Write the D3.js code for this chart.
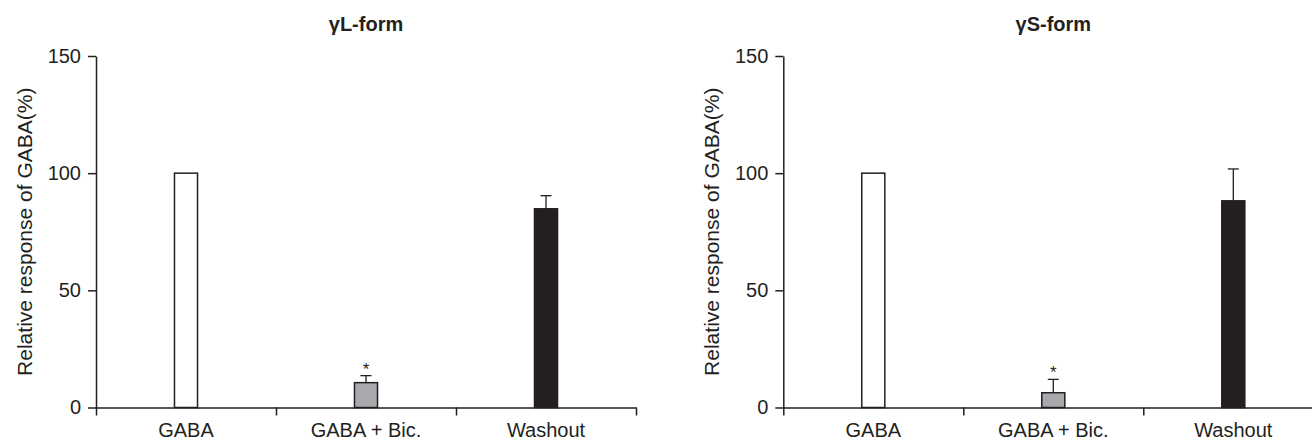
<!DOCTYPE html>
<html>
<head>
<meta charset="utf-8">
<script src="https://cdn.jsdelivr.net/npm/d3@7"></script>
<style>
  body { margin: 0; background: #fff; }
  svg { display: block; font-family: "Liberation Sans", Arial, sans-serif; }
</style>
</head>
<body>
<svg id="chart" width="1312" height="441"></svg>
<script>
const categories = ['GABA', 'GABA + Bic.', 'Washout']
const yTicks = [0, 50, 100, 150]
const panelTitles = ['\u03b3L-form', '\u03b3S-form']
// mean values and upper error (SEM) per panel
const lFormValues = [100, 10.6, 84.8]
const lFormErrors = [0, 3.0, 5.6]
const sFormValues = [100, 6.3, 88.2]
const sFormErrors = [0, 5.7, 13.6]
const barColors = ['#ffffff', '#a7a9ac', '#231f20']
const significant = [false, true, false]

const ink = '#231f20'
const svg = d3.select('#chart')

const plotTop = 56
const plotBottom = 407.5
const plotWidth = 540

const y = d3.scaleLinear().domain([0, 150]).range([plotBottom, plotTop])

function drawPanel(originX, title, values, errors) {
  const g = svg.append('g').attr('transform', `translate(${originX},0)`)

  const x = d3.scaleBand()
    .domain(categories)
    .range([0, plotWidth])
    .paddingInner(0.872)
    .paddingOuter(0.436)

  // bars
  g.selectAll('rect.bar')
    .data(categories)
    .join('rect')
    .attr('class', 'bar')
    .attr('x', (d) => x(d))
    .attr('width', x.bandwidth())
    .attr('y', (d, i) => y(values[i]))
    .attr('height', (d, i) => y(0) - y(values[i]))
    .attr('fill', (d, i) => barColors[i])
    .attr('stroke', ink)
    .attr('stroke-width', 1.5)

  // upper error bars only
  const withErr = categories.filter((d, i) => errors[i] > 0)
  const idx = (d) => categories.indexOf(d)
  g.selectAll('line.err')
    .data(withErr)
    .join('line')
    .attr('class', 'err')
    .attr('x1', (d) => x(d) + x.bandwidth() / 2)
    .attr('x2', (d) => x(d) + x.bandwidth() / 2)
    .attr('y1', (d) => y(values[idx(d)]))
    .attr('y2', (d) => y(values[idx(d)] + errors[idx(d)]))
    .attr('stroke', ink)
    .attr('stroke-width', 1.3)
  g.selectAll('line.cap')
    .data(withErr)
    .join('line')
    .attr('class', 'cap')
    .attr('x1', (d) => x(d) + x.bandwidth() / 2 - 5.5)
    .attr('x2', (d) => x(d) + x.bandwidth() / 2 + 5.5)
    .attr('y1', (d) => y(values[idx(d)] + errors[idx(d)]))
    .attr('y2', (d) => y(values[idx(d)] + errors[idx(d)]))
    .attr('stroke', ink)
    .attr('stroke-width', 1.3)

  // significance asterisks
  g.selectAll('text.star')
    .data(categories.filter((d, i) => significant[i]))
    .join('text')
    .attr('class', 'star')
    .attr('x', (d) => x(d) + x.bandwidth() / 2)
    .attr('y', (d) => y(values[idx(d)] + errors[idx(d)]) - 1)
    .attr('text-anchor', 'middle')
    .attr('font-size', 17)
    .attr('fill', ink)
    .text('*')

  // y axis
  const yAxis = g.append('g')
    .call(d3.axisLeft(y).tickValues(yTicks).tickSize(8).tickSizeOuter(0).tickPadding(7))
  yAxis.selectAll('path, line').attr('stroke', ink).attr('stroke-width', 1.5)
  yAxis.selectAll('text').attr('font-size', 20).attr('fill', ink)

  // x axis: ticks at band boundaries
  const xEdges = d3.scaleLinear().domain([0, categories.length]).range([0, plotWidth])
  const xAxis = g.append('g')
    .attr('transform', `translate(0,${plotBottom})`)
    .call(d3.axisBottom(xEdges).tickValues(d3.range(categories.length + 1)).tickFormat('').tickSize(8).tickSizeOuter(0))
  xAxis.selectAll('path, line').attr('stroke', ink).attr('stroke-width', 1.5)

  const xLabels = g.append('g')
    .attr('transform', `translate(0,${plotBottom})`)
    .call(d3.axisBottom(x).tickSize(0).tickPadding(0))
  xLabels.select('.domain').remove()
  xLabels.selectAll('text')
    .attr('y', 29.5)
    .attr('dy', null)
    .attr('font-size', 20)
    .attr('fill', ink)

  // y axis title
  g.append('text')
    .attr('transform', `translate(-64,${(plotTop + plotBottom) / 2}) rotate(-90)`)
    .attr('text-anchor', 'middle')
    .attr('font-size', 21)
    .attr('fill', ink)
    .text('Relative response of GABA(%)')

  // panel title
  g.append('text')
    .attr('x', plotWidth / 2)
    .attr('y', 31)
    .attr('text-anchor', 'middle')
    .attr('font-size', 20)
    .attr('font-weight', 'bold')
    .attr('fill', ink)
    .text(title)
}

drawPanel(96, panelTitles[0], lFormValues, lFormErrors)
drawPanel(783.3, panelTitles[1], sFormValues, sFormErrors)
</script>
</body>
</html>
